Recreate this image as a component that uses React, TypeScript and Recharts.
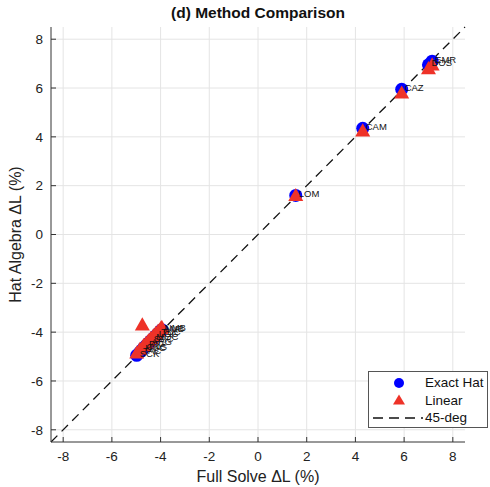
import React from "react";
import {
  ScatterChart,
  Scatter,
  XAxis,
  YAxis,
  CartesianGrid,
  ReferenceLine,
  LabelList,
} from "recharts";

// region codes and values (% change in L)
const regions = [
  "EMR", "DOS", "CAZ", "CAM", "LOM",
  "SCK", "TAC", "HUC", "CKG", "PIG", "ARG", "SAC", "MOC", "LOC", "TUC", "AMB", "NMB",
];
const fullSolve = [
  7.15, 7.0, 5.9, 4.3, 1.55,
  -4.98, -4.85, -4.75, -4.7, -4.6, -4.5, -4.4, -4.3, -4.2, -4.1, -4.0, -3.95,
];
const exactHat = [
  7.1, 6.95, 5.95, 4.35, 1.6,
  -4.95, -4.82, -4.72, -4.65, -4.55, -4.45, -4.35, -4.25, -4.15, -4.05, -3.95, -3.9,
];
const linear = [
  6.95, 6.8, 5.8, 4.25, 1.6,
  -4.85, -4.7, -3.7, -4.55, -4.45, -4.35, -4.25, -4.15, -4.05, -3.95, -3.85, -3.8,
];
const ticks = [-8, -6, -4, -2, 0, 2, 4, 6, 8];
const DOMAIN: [number, number] = [-8.5, 8.5];

const hatData = regions.map((name, i) => ({ name, x: fullSolve[i], y: exactHat[i] }));
const linData = regions.map((name, i) => ({ name, x: fullSolve[i], y: linear[i] }));

const FONT = "'Liberation Sans', Arial, sans-serif";
const BLUE = "#0000ff";
const RED = "#ee3228";

const Triangle = (props: any) => {
  const { cx, cy } = props;
  if (cx == null || cy == null) return null;
  const s = 7.5;
  return (
    <path
      d={`M${cx},${cy - s} L${cx + s},${cy + s * 0.75} L${cx - s},${cy + s * 0.75} Z`}
      fill={RED}
    />
  );
};

const Dot = (props: any) => {
  const { cx, cy } = props;
  if (cx == null || cy == null) return null;
  return <circle cx={cx} cy={cy} r={6.5} fill={BLUE} />;
};

const PointLabel = (props: any) => {
  const { x, y, width, height, value } = props;
  return (
    <text
      x={x + width / 2 + 3}
      y={y + height / 2 - 1}
      fontSize={9.5}
      fontFamily={FONT}
      fill="#111"
      dominantBaseline="middle"
    >
      {value}
    </text>
  );
};

const row: React.CSSProperties = { display: "flex", alignItems: "center", height: 17.5, whiteSpace: "nowrap" };

const LegendBox = () => (
  <div
    style={{
      position: "absolute",
      left: 368,
      top: 371,
      width: 120,
      height: 57,
      border: "1px solid #555",
      background: "#fff",
      fontFamily: FONT,
      fontSize: 13.5,
      color: "#111",
      boxSizing: "border-box",
      paddingTop: 2,
    }}
  >
    <div style={row}>
      <svg width={56} height={14} style={{ flex: "none" }}>
        <circle cx={30} cy={7} r={5} fill={BLUE} />
      </svg>
      <span>Exact Hat</span>
    </div>
    <div style={row}>
      <svg width={56} height={14} style={{ flex: "none" }}>
        <path d="M30,1.5 L36,11.5 L24,11.5 Z" fill={RED} />
      </svg>
      <span>Linear</span>
    </div>
    <div style={row}>
      <svg width={56} height={14} style={{ flex: "none" }}>
        <line x1={4} y1={7} x2={54} y2={7} stroke="#111" strokeWidth={1.5} strokeDasharray="10 6" />
      </svg>
      <span>45-deg</span>
    </div>
  </div>
);

export default function App() {
  return (
    <div style={{ position: "absolute", left: 0, top: 0, width: 490, height: 487, background: "#fff" }}>
      <div
        style={{
          position: "absolute",
          left: 51,
          width: 414,
          top: 4,
          textAlign: "center",
          fontFamily: FONT,
          fontWeight: "bold",
          fontSize: 15.5,
          color: "#111",
        }}
      >
        (d) Method Comparison
      </div>
      <ScatterChart width={490} height={487} margin={{ top: 27, right: 25, left: 0, bottom: 0 }}>
        <CartesianGrid stroke="#e4e4e4" strokeWidth={1} horizontalValues={ticks} verticalValues={ticks} />
        <XAxis
          type="number"
          dataKey="x"
          domain={DOMAIN}
          ticks={ticks}
          allowDataOverflow
          height={45}
          stroke="#333"
          tickSize={-5}
          tickMargin={14}
          tick={{ fill: "#222", fontSize: 13.5, fontFamily: FONT }}
          label={{
            value: "Full Solve ΔL (%)",
            position: "insideBottom",
            offset: 5,
            fill: "#222",
            fontSize: 16,
            fontFamily: FONT,
          }}
        />
        <YAxis
          type="number"
          dataKey="y"
          domain={DOMAIN}
          ticks={ticks}
          allowDataOverflow
          width={51}
          stroke="#333"
          tickSize={-5}
          tickMargin={13}
          tick={{ fill: "#222", fontSize: 13.5, fontFamily: FONT }}
          label={{
            value: "Hat Algebra ΔL (%)",
            angle: -90,
            position: "center",
            dx: -10,
            fill: "#222",
            fontSize: 16,
            fontFamily: FONT,
          }}
        />
        <Scatter name="Exact Hat" data={hatData} shape={<Dot />} isAnimationActive={false}>
          <LabelList dataKey="name" content={<PointLabel />} />
        </Scatter>
        <Scatter name="Linear" data={linData} shape={<Triangle />} isAnimationActive={false} />
        <ReferenceLine
          segment={[
            { x: -8.5, y: -8.5 },
            { x: 8.5, y: 8.5 },
          ]}
          stroke="#111"
          strokeWidth={1.3}
          strokeDasharray="9 6"
          ifOverflow="visible"
        />
      </ScatterChart>
      <LegendBox />
    </div>
  );
}
